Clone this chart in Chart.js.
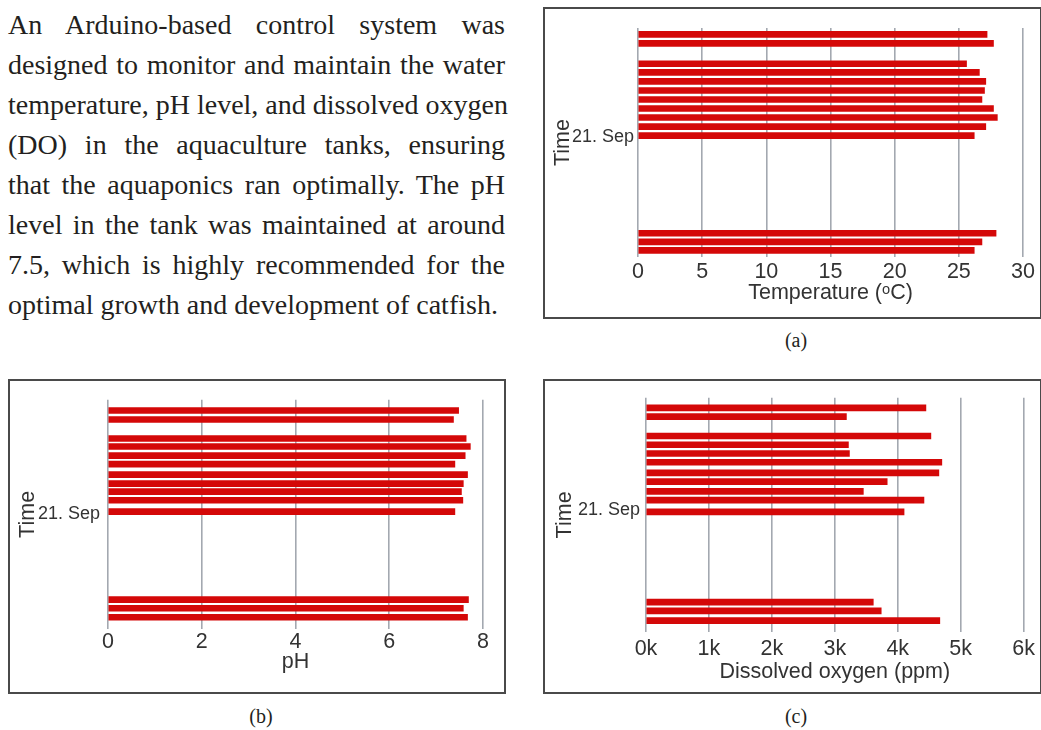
<!DOCTYPE html>
<html>
<head>
<meta charset="utf-8">
<script src="https://cdn.jsdelivr.net/npm/chart.js@4.4.1/dist/chart.umd.min.js"></script>
<style>
  body { margin: 0; width: 1041px; height: 730px; background: #fff; position: relative; overflow: hidden; }
  .para { position: absolute; left: 8px; top: 5px; width: 497px; font-family: "Liberation Serif", "Times New Roman", serif; font-size: 28px; line-height: 40px; color: #231f20; }
  .para div { text-align: justify; text-align-last: justify; white-space: nowrap; }
  .box { position: absolute; border: 2px solid #4a4a4a; box-sizing: border-box; background: #fff; }
  .box canvas { position: absolute; }
  .cap { position: absolute; font-family: "Liberation Serif", serif; font-size: 20px; color: #231f20; transform: translate(-50%, -50%); }
</style>
</head>
<body>
<div class="para">
  <div>An Arduino-based control system was</div>
  <div>designed to monitor and maintain the water</div>
  <div>temperature, pH level, and dissolved oxygen</div>
  <div>(DO) in the aquaculture tanks, ensuring</div>
  <div>that the aquaponics ran optimally. The pH</div>
  <div>level in the tank was maintained at around</div>
  <div>7.5, which is highly recommended for the</div>
  <div style="text-align-last:left">optimal growth and development of catfish.</div>
</div>

<div class="box" style="left:543px;top:7px;width:499px;height:312px;">
  <canvas id="tempChart"></canvas>
</div>
<div class="box" style="left:8px;top:379px;width:498px;height:315px;">
  <canvas id="phChart"></canvas>
</div>
<div class="box" style="left:543px;top:379px;width:499px;height:315px;">
  <canvas id="doChart"></canvas>
</div>

<div class="cap" style="left:796px;top:340px;">(a)</div>
<div class="cap" style="left:261px;top:716px;">(b)</div>
<div class="cap" style="left:796px;top:716px;">(c)</div>

<script>
// time positions are hours relative to 21 Sep 00:00 (axis runs downward)
const timeTicks = [0];
const timeTickLabels = ["21. Sep"];

const tempTimes = [-11.41, -10.41, -8.15, -7.19, -6.19, -5.19, -4.19, -3.19, -2.19, -1.19, -0.19, 10.63, 11.59, 12.52];
const tempValues = [27.2, 27.7, 25.6, 26.6, 27.1, 27.0, 26.8, 27.7, 28.0, 27.1, 26.2, 27.9, 26.8, 26.2];

const phTimes = [-11.48, -10.48, -8.37, -7.48, -6.48, -5.52, -4.37, -3.37, -2.48, -1.52, -0.26, 9.52, 10.48, 11.48];
const phValues = [7.48, 7.37, 7.64, 7.73, 7.62, 7.40, 7.67, 7.58, 7.54, 7.57, 7.40, 7.69, 7.58, 7.67];

const doTimes = [-11.74, -10.74, -8.52, -7.52, -6.52, -5.52, -4.30, -3.30, -2.19, -1.19, 0.15, 10.48, 11.48, 12.59];
const doValues = [4447, 3184, 4526, 3216, 3232, 4700, 4653, 3832, 3453, 4416, 4100, 3611, 3737, 4668];

const BAR_RED = "#d40808";
const GRID_GRAY = "#a3a8b0";
const TEXT = "#333333";
const SANS = "'Liberation Sans', Arial, sans-serif";

function makeChart(id, times, values, cfg) {
  const canvas = document.getElementById(id);
  canvas.width = cfg.w;
  canvas.height = cfg.h;
  canvas.style.width = cfg.w + "px";
  canvas.style.height = cfg.h + "px";
  canvas.style.left = "0px";
  canvas.style.top = "0px";

  return new Chart(canvas.getContext("2d"), {
    type: "bar",
    data: {
      datasets: [
        {
          data: times.map((t, i) => ({ x: values[i], y: t })),
          backgroundColor: BAR_RED,
          barThickness: 6,
        },
      ],
    },
    options: {
      indexAxis: "y",
      responsive: false,
      animation: false,
      layout: { padding: cfg.pad },
      plugins: { legend: { display: false }, tooltip: { enabled: false } },
      scales: {
        x: {
          type: "linear",
          min: 0,
          max: cfg.xMax,
          afterFit: (scale) => { scale.height = cfg.xH; },
          ticks: {
            stepSize: cfg.step,
            padding: cfg.xTickPad,
            color: TEXT,
            font: { family: SANS, size: 21.5, lineHeight: 1.2 },
            callback: cfg.fmt,
          },
          grid: { color: GRID_GRAY, lineWidth: 1.6, drawTicks: false },
          border: { display: false },
          title: {
            display: true,
            text: cfg.xTitle,
            color: TEXT,
            padding: { top: 4, bottom: 4 },
            font: { family: SANS, size: 21.5, lineHeight: 1.2 },
          },
        },
        y: {
          type: "linear",
          reverse: true,
          offset: false,
          min: cfg.yMin,
          max: cfg.yMax,
          afterFit: (scale) => { scale.width = cfg.yW; },
          afterBuildTicks: (scale) => { scale.ticks = timeTicks.map((v) => ({ value: v })); },
          ticks: {
            padding: cfg.yTickPad,
            color: TEXT,
            font: { family: SANS, size: 18, lineHeight: 1.2 },
            callback: (v) => timeTickLabels[timeTicks.indexOf(v)],
          },
          grid: { display: false, drawTicks: false, offset: false },
          border: { display: false },
          title: {
            display: true,
            text: "Time",
            color: TEXT,
            padding: { top: cfg.yTitlePad, bottom: 4 },
            font: { family: SANS, size: 21.5, lineHeight: 1.2 },
          },
        },
      },
    },
  });
}

makeChart("tempChart", tempTimes, tempValues, {
  w: 494, h: 307,
  pad: { left: 0, right: 16, top: 19, bottom: 6 },
  xMax: 30, step: 5, xH: 53, xTickPad: 2,
  xTitle: "Temperature (\u1d52C)", fmt: (v) => v,
  yMin: -12.11, yMax: 13.26, yW: 93, yTickPad: 4, yTitlePad: 4.8,
});

makeChart("phChart", phTimes, phValues, {
  w: 493, h: 310,
  pad: { left: 0, right: 20, top: 18, bottom: 12 },
  xMax: 8, step: 2, xH: 50, xTickPad: 0,
  xTitle: "pH", fmt: (v) => v,
  yMin: -12.67, yMax: 12.78, yW: 98, yTickPad: 8, yTitlePad: 5.4,
});

makeChart("doChart", doTimes, doValues, {
  w: 494, h: 310,
  pad: { left: 0, right: 13, top: 10, bottom: 2 },
  xMax: 6000, step: 1000, xH: 57, xTickPad: 4,
  xTitle: "Dissolved oxygen (ppm)", fmt: (v) => v / 1000 + "k",
  yMin: -12.89, yMax: 13.89, yW: 101, yTickPad: 6, yTitlePad: 7,
});
</script>
</body>
</html>
